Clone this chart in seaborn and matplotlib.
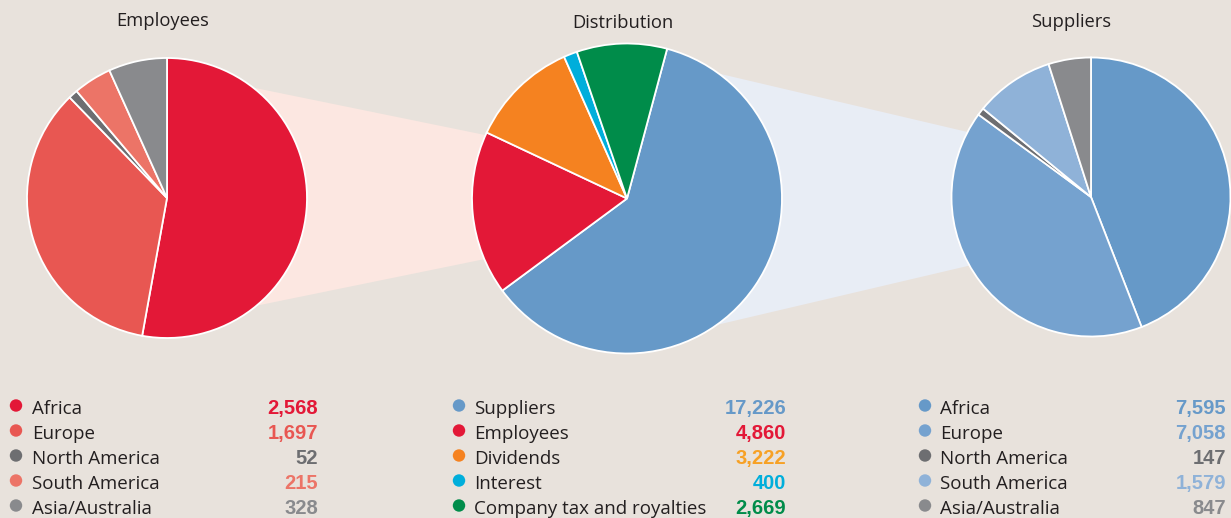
import matplotlib
matplotlib.use("Agg")
import matplotlib.pyplot as plt
import seaborn as sns
from matplotlib.patches import Polygon

# ---- data -------------------------------------------------------------
employee_regions = ["Africa", "Europe", "North America", "South America", "Asia/Australia"]
employee_values = [2568, 1697, 52, 215, 328]

distribution_items = ["Suppliers", "Employees", "Dividends", "Interest",
                      "Company tax and royalties"]
distribution_values = [17226, 4860, 3222, 400, 2669]

supplier_regions = ["Africa", "Europe", "North America", "South America", "Asia/Australia"]
supplier_values = [7595, 7058, 147, 1579, 847]

# ---- colours ----------------------------------------------------------
BG = "#E8E2DC"
TEXT = "#231F20"
employee_colors = ["#E31837", "#E85752", "#6D6E71", "#EC7467", "#898A8D"]
distribution_colors = ["#6699C8", "#E31837", "#F58220", "#00AEDB", "#008C4A"]
distribution_value_colors = ["#6699C8", "#E31837", "#F7A125", "#00AEDB", "#008C4A"]
supplier_colors = ["#6699C8", "#75A2CF", "#6D6E71", "#8FB2D8", "#898A8D"]
pink_link = "#FCE7E1"
blue_link = "#E8EDF5"

sns.set_theme(style="white")
plt.rcParams["font.family"] = ["Open Sans", "DejaVu Sans"]

W, H = 1231, 518
fig = plt.figure(figsize=(W / 100, H / 100), dpi=100, facecolor=BG)
ax = fig.add_axes([0, 0, 1, 1])
ax.set_facecolor(BG)


def Y(p):
    """Convert a top-down pixel row into an axis y value."""
    return H - p


# pie geometry (centre x, centre row, radius)
pies = {
    "emp": (167, 198, 140),
    "dist": (627, 198.5, 155),
    "sup": (1091, 197, 139.5),
}

# ---- connector bands --------------------------------------------------
def band(x1, x2, cy, h1, h2, color):
    pts = [(x1, Y(cy - h1)), (x2, Y(cy - h2)), (x2, Y(cy + h2)), (x1, Y(cy + h1))]
    ax.add_patch(Polygon(pts, closed=True, facecolor=color, edgecolor="none", zorder=1))

band(pies["emp"][0], pies["dist"][0], 197, 127, 33, pink_link)
band(pies["dist"][0], pies["sup"][0], 199, 147, 38, blue_link)

# ---- pies -------------------------------------------------------------
wp = dict(edgecolor="white", linewidth=1.3, zorder=3)
for key, vals, cols, start in [
    ("emp", employee_values, employee_colors, 90),
    ("dist", distribution_values, distribution_colors, 75),
    ("sup", supplier_values, supplier_colors, 90),
]:
    cx, cy, r = pies[key]
    wedges, _ = ax.pie(vals, colors=cols, startangle=start, counterclock=False,
                       center=(cx, Y(cy)), radius=r, wedgeprops=wp, frame=True)
    for w in wedges:
        w.set_zorder(3)

# ---- titles -----------------------------------------------------------
title_kw = dict(fontsize=13.2, color=TEXT, ha="center", va="baseline", zorder=5)
ax.text(163, Y(26), "Employees", **title_kw)
ax.text(623, Y(28), "Distribution", **title_kw)
ax.text(1071, Y(27), "Suppliers", **title_kw)

# ---- legends ----------------------------------------------------------
rows = [414 + 25 * i for i in range(5)]
dot_rows = [405.5 + 25 * i for i in range(5)]
columns = [
    (16, 32, 318, employee_regions, employee_values, employee_colors, employee_colors),
    (459, 474, 786, distribution_items, distribution_values, distribution_colors,
     distribution_value_colors),
    (925, 940, 1226, supplier_regions, supplier_values, supplier_colors, supplier_colors),
]
for dot_x, label_x, value_x, names, vals, cols, vcols in columns:
    sns.scatterplot(x=[dot_x] * len(names), y=[Y(r) for r in dot_rows], hue=names,
                    palette=dict(zip(names, cols)), s=80, edgecolor="none",
                    legend=False, ax=ax, zorder=5)
    for name, v, vc, r in zip(names, vals, vcols, rows):
        ax.text(label_x, Y(r), name, fontsize=13.5, color=TEXT, ha="left",
                va="baseline", zorder=5)
        ax.text(value_x, Y(r), f"{v:,}", fontsize=14.5, color=vc, ha="right",
                va="baseline", fontweight="bold", family="Liberation Sans", zorder=5)

ax.set_xlim(0, W)
ax.set_ylim(0, H)
ax.set_aspect("equal")
ax.axis("off")

fig.savefig("out.png", dpi=100, facecolor=BG)
